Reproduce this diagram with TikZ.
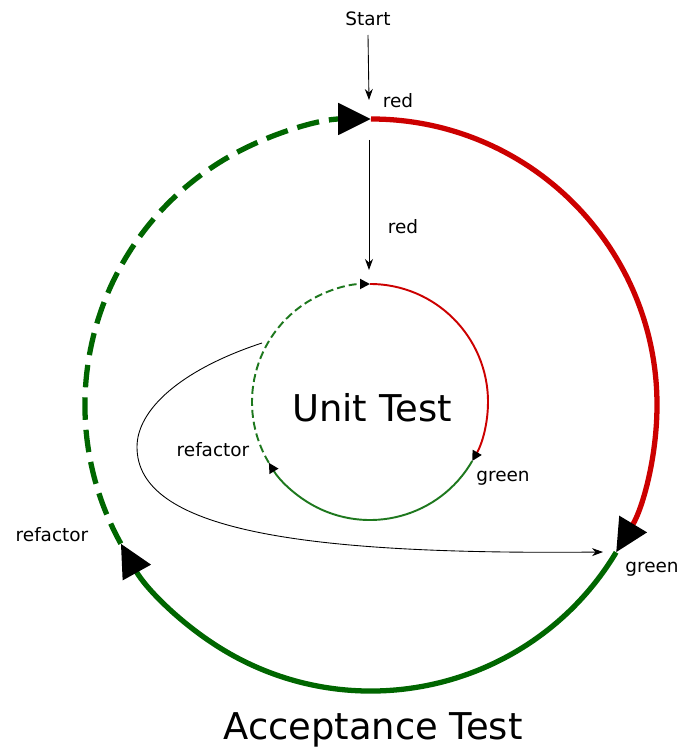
\documentclass[tikz,border=0pt]{standalone}
\usepackage{fontspec}
\setmainfont{DejaVu Sans}
\usetikzlibrary{positioning,arrows.meta}
\definecolor{cyclered}{RGB}{204,0,0}
\definecolor{cyclegreen}{RGB}{0,102,0}
\definecolor{unitgreen}{RGB}{30,120,30}

\begin{document}
\begin{tikzpicture}[
x=0.02cm, y=0.02cm,
tag/.style={font=\fontsize{10.5}{12}\selectfont, anchor=base, inner sep=0pt},
title/.style={font=\fontsize{21}{25}\selectfont, anchor=base, inner sep=0pt},
outerloop/.style={line width=3pt},
innerloop/.style={line width=1.1pt},
bigtip/.style={-{Triangle[length=0.66cm, width=0.62cm, color=black]}},
smalltip/.style={-{Triangle[length=0.2cm, width=0.2cm, color=black]}},
flow/.style={-{Stealth[length=2.2mm, width=1.6mm]}, line width=0.5pt}
]
\useasboundingbox (0,0) rectangle (681,755);

% acceptance test loop
\draw[outerloop, cyclered, bigtip] (371,350) ++(90:286) arc[start angle=90, end angle=-31, radius=286];
\draw[outerloop, cyclegreen, bigtip] (371,350) ++(-31:286) arc[start angle=-31, end angle=-151, radius=286];
\draw[outerloop, cyclegreen, bigtip, dash pattern=on 0.45cm off 0.2cm] (371,350) ++(209:286) arc[start angle=209, end angle=90, radius=286];

% unit test loop
\draw[innerloop, cyclered, smalltip] (370,353) ++(90:118) arc[start angle=90, end angle=-30, radius=118];
\draw[innerloop, unitgreen, smalltip] (370,353) ++(-30:118) arc[start angle=-30, end angle=-149, radius=118];
\draw[innerloop, unitgreen, smalltip, dash pattern=on 0.16cm off 0.08cm] (370,353) ++(211:118) arc[start angle=211, end angle=90, radius=118];

% labels
\node[tag] (start) at (368,729) {Start};
\node[tag] (redtop) at (398,647) {red};
\node[tag] (redmid) at (403,521) {red};
\node[tag] (refin) at (213,298) {refactor};
\node[tag] (greenin) at (503,273) {green};
\node[tag] (greenout) at (652,182) {green};
\node[tag] (refout) at (52,213) {refactor};
\node[title] (unit) at (372,333) {Unit Test};
\node[title] (accept) at (373,15) {Acceptance Test};

\coordinate (starttip) at (369,655);
\coordinate (outertop) at (369,615);
\coordinate (innertop) at (369,485);
\coordinate (innerleft) at (262,412);
\coordinate (outergreen) at (603,203);

\draw[flow] (start.north |- 0,720) -- (starttip);
\draw[flow] (outertop) -- (innertop);
\draw[flow] (innerleft) .. controls (180,385) and (137,345) .. (137,308)
  .. controls (137,225) and (300,200) .. (outergreen);
\end{tikzpicture}
\end{document}
